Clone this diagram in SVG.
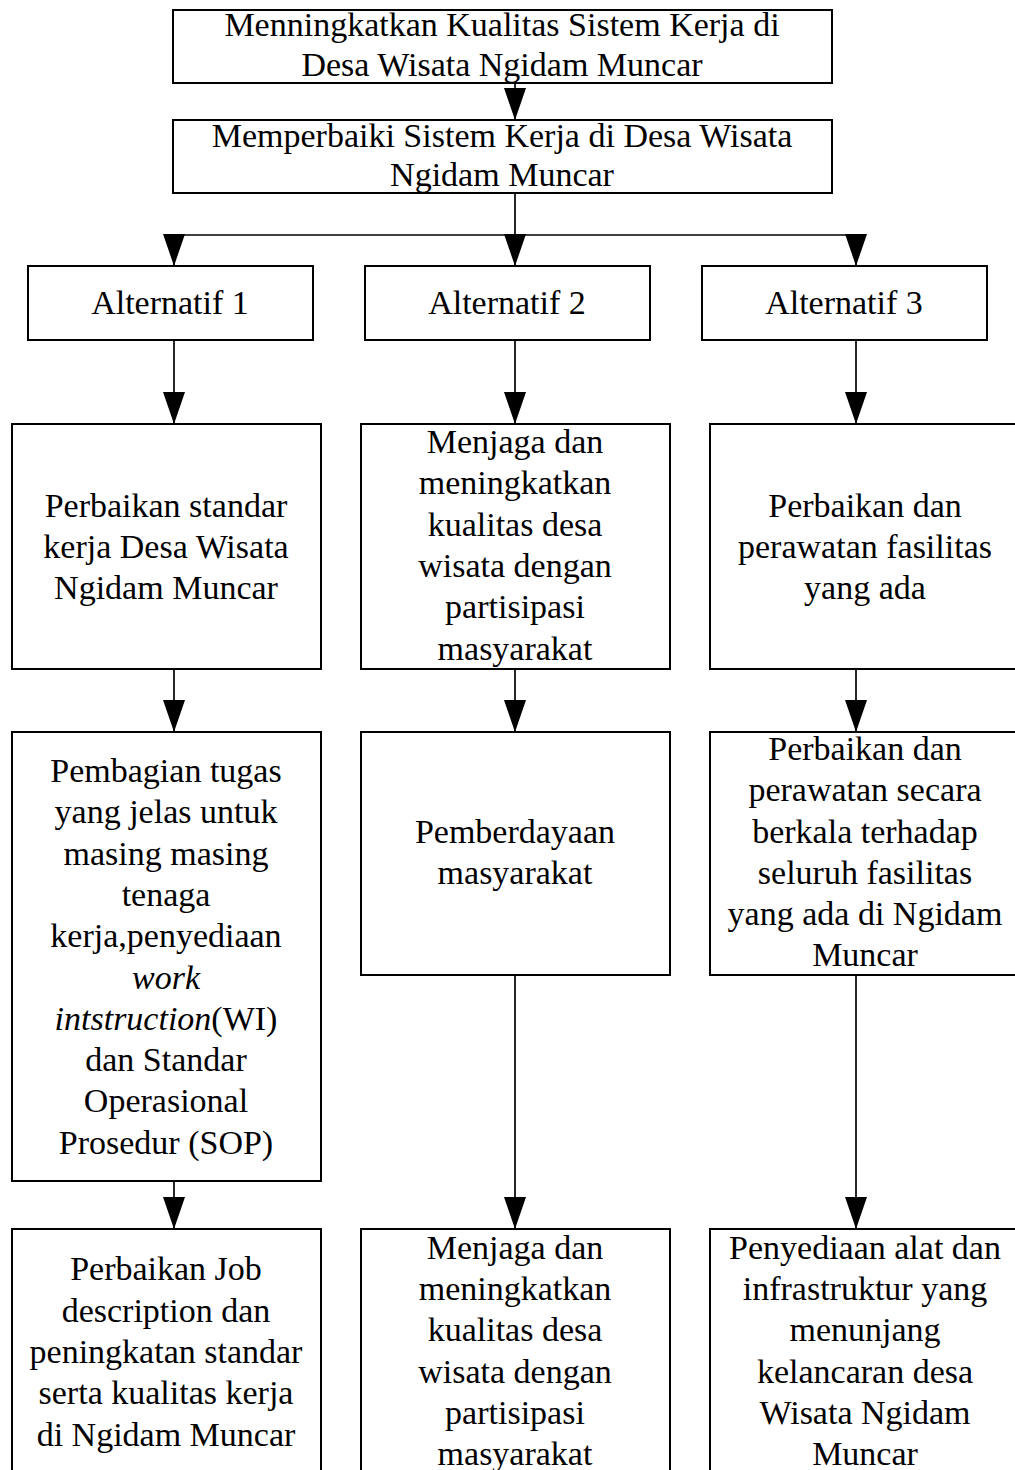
<svg xmlns="http://www.w3.org/2000/svg" width="1015" height="1470" viewBox="0 0 1015 1470">
<style>
.box{fill:#fff;stroke:#000;stroke-width:2}
.t{font-family:"Liberation Serif","Times New Roman",serif;font-size:34px;fill:#000;text-anchor:middle}
.c{fill:none;stroke:#000;stroke-width:1.7}
.i{font-style:italic}
</style>
<defs>
<marker id="arr" markerUnits="userSpaceOnUse" viewBox="0 0 32 22" markerWidth="32" markerHeight="22" refX="32" refY="11" orient="auto">
<path d="M0,0 L32,11 L0,22 z" fill="#000"/>
</marker>
</defs>
<rect width="1015" height="1470" fill="#fff"/>
<g id="connectors">
<line class="c" x1="515" y1="83" x2="515" y2="120" marker-end="url(#arr)"/>
<line class="c" x1="515" y1="193" x2="515" y2="235"/>
<line class="c" x1="174" y1="235" x2="856" y2="235"/>
<line class="c" x1="174" y1="235" x2="174" y2="266" marker-end="url(#arr)"/>
<line class="c" x1="515" y1="235" x2="515" y2="266" marker-end="url(#arr)"/>
<line class="c" x1="856" y1="235" x2="856" y2="266" marker-end="url(#arr)"/>
<line class="c" x1="174" y1="340" x2="174" y2="424" marker-end="url(#arr)"/>
<line class="c" x1="515" y1="340" x2="515" y2="424" marker-end="url(#arr)"/>
<line class="c" x1="856" y1="340" x2="856" y2="424" marker-end="url(#arr)"/>
<line class="c" x1="174" y1="669" x2="174" y2="732" marker-end="url(#arr)"/>
<line class="c" x1="515" y1="669" x2="515" y2="732" marker-end="url(#arr)"/>
<line class="c" x1="856" y1="669" x2="856" y2="732" marker-end="url(#arr)"/>
<line class="c" x1="174" y1="1181" x2="174" y2="1229" marker-end="url(#arr)"/>
<line class="c" x1="515" y1="975" x2="515" y2="1229" marker-end="url(#arr)"/>
<line class="c" x1="856" y1="975" x2="856" y2="1229" marker-end="url(#arr)"/>
</g>
<g id="n-goal">
<rect class="box" x="173" y="10" width="659" height="73"/>
<text class="t" x="502" y="36">Menningkatkan Kualitas Sistem Kerja di</text>
<text class="t" x="502" y="76">Desa Wisata Ngidam Muncar</text>
</g>
<g id="n-perbaiki">
<rect class="box" x="173" y="120" width="659" height="73"/>
<text class="t" x="502" y="147">Memperbaiki Sistem Kerja di Desa Wisata</text>
<text class="t" x="502" y="186">Ngidam Muncar</text>
</g>
<g id="n-alt1">
<rect class="box" x="28" y="266" width="285" height="74"/>
<text class="t" x="170" y="314">Alternatif 1</text>
</g>
<g id="n-alt2">
<rect class="box" x="365" y="266" width="285" height="74"/>
<text class="t" x="507" y="314">Alternatif 2</text>
</g>
<g id="n-alt3">
<rect class="box" x="702" y="266" width="285" height="74"/>
<text class="t" x="844" y="314">Alternatif 3</text>
</g>
<g id="n-a1-1">
<rect class="box" x="12" y="424" width="309" height="245"/>
<text class="t" x="166" y="517">Perbaikan standar</text>
<text class="t" x="166" y="558">kerja Desa Wisata</text>
<text class="t" x="166" y="599">Ngidam Muncar</text>
</g>
<g id="n-a2-1">
<rect class="box" x="361" y="424" width="309" height="245"/>
<text class="t" x="515" y="453">Menjaga dan</text>
<text class="t" x="515" y="494">meningkatkan</text>
<text class="t" x="515" y="536">kualitas desa</text>
<text class="t" x="515" y="577">wisata dengan</text>
<text class="t" x="515" y="618">partisipasi</text>
<text class="t" x="515" y="660">masyarakat</text>
</g>
<g id="n-a3-1">
<rect class="box" x="710" y="424" width="312" height="245"/>
<text class="t" x="865" y="517">Perbaikan dan</text>
<text class="t" x="865" y="558">perawatan fasilitas</text>
<text class="t" x="865" y="599">yang ada</text>
</g>
<g id="n-a1-2">
<rect class="box" x="12" y="732" width="309" height="449"/>
<text class="t" x="166" y="782">Pembagian tugas</text>
<text class="t" x="166" y="823">yang jelas untuk</text>
<text class="t" x="166" y="865">masing masing</text>
<text class="t" x="166" y="906">tenaga</text>
<text class="t" x="166" y="947">kerja,penyediaan</text>
<text class="t i" x="166" y="989">work</text>
<text class="t" x="166" y="1030"><tspan class="i">intstruction</tspan>(WI)</text>
<text class="t" x="166" y="1071">dan Standar</text>
<text class="t" x="166" y="1112">Operasional</text>
<text class="t" x="166" y="1154">Prosedur (SOP)</text>
</g>
<g id="n-a2-2">
<rect class="box" x="361" y="732" width="309" height="243"/>
<text class="t" x="515" y="843">Pemberdayaan</text>
<text class="t" x="515" y="884">masyarakat</text>
</g>
<g id="n-a3-2">
<rect class="box" x="710" y="732" width="312" height="243"/>
<text class="t" x="865" y="760">Perbaikan dan</text>
<text class="t" x="865" y="801">perawatan secara</text>
<text class="t" x="865" y="843">berkala terhadap</text>
<text class="t" x="865" y="884">seluruh fasilitas</text>
<text class="t" x="865" y="925">yang ada di Ngidam</text>
<text class="t" x="865" y="966">Muncar</text>
</g>
<g id="n-a1-3">
<rect class="box" x="12" y="1229" width="309" height="260"/>
<text class="t" x="166" y="1280">Perbaikan Job</text>
<text class="t" x="166" y="1322">description dan</text>
<text class="t" x="166" y="1363">peningkatan standar</text>
<text class="t" x="166" y="1404">serta kualitas kerja</text>
<text class="t" x="166" y="1446">di Ngidam Muncar</text>
</g>
<g id="n-a2-3">
<rect class="box" x="361" y="1229" width="309" height="260"/>
<text class="t" x="515" y="1259">Menjaga dan</text>
<text class="t" x="515" y="1300">meningkatkan</text>
<text class="t" x="515" y="1341">kualitas desa</text>
<text class="t" x="515" y="1383">wisata dengan</text>
<text class="t" x="515" y="1424">partisipasi</text>
<text class="t" x="515" y="1465">masyarakat</text>
</g>
<g id="n-a3-3">
<rect class="box" x="710" y="1229" width="312" height="260"/>
<text class="t" x="865" y="1259">Penyediaan alat dan</text>
<text class="t" x="865" y="1300">infrastruktur yang</text>
<text class="t" x="865" y="1341">menunjang</text>
<text class="t" x="865" y="1383">kelancaran desa</text>
<text class="t" x="865" y="1424">Wisata Ngidam</text>
<text class="t" x="865" y="1465">Muncar</text>
</g>
</svg>
